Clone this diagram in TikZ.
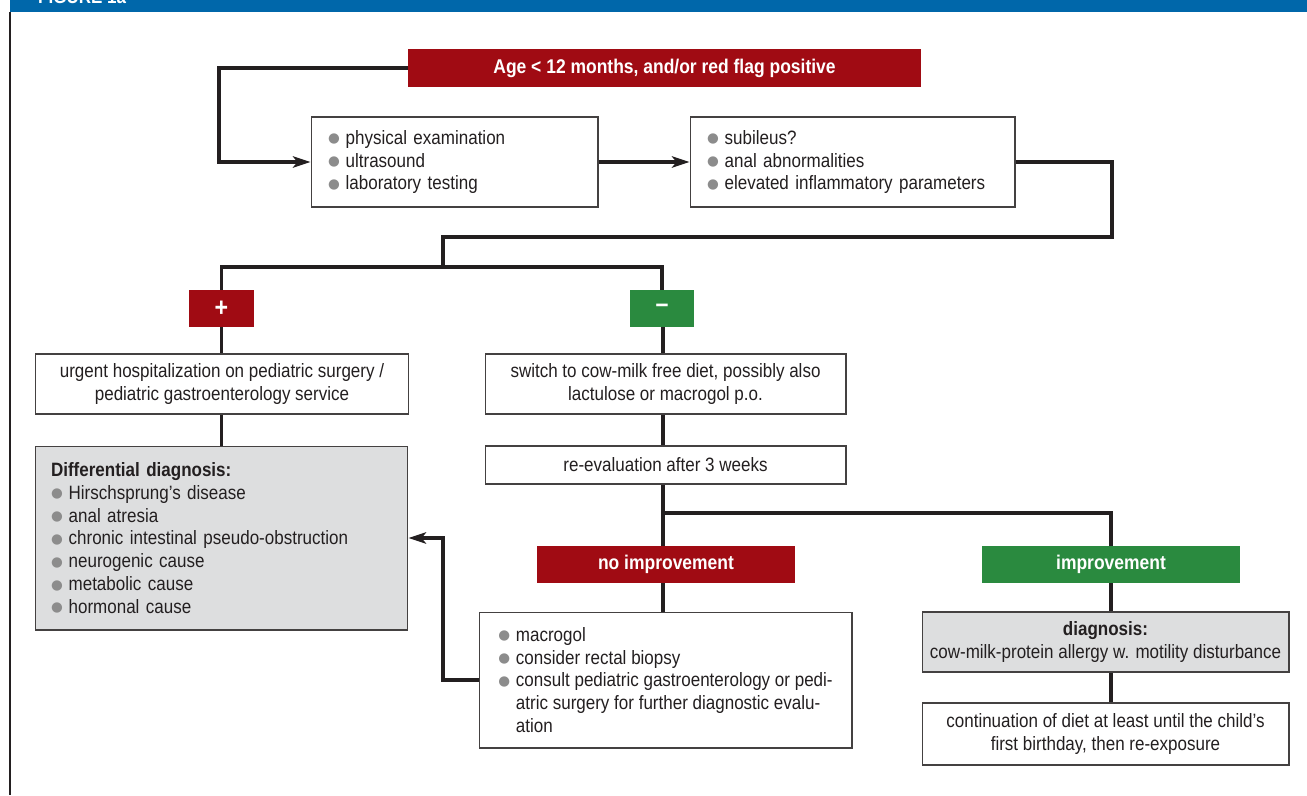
\documentclass[tikz,border=0pt]{standalone}
\usepackage{fontspec}
\setmainfont{Liberation Sans}[FakeStretch=0.88]
\newfontfamily\symfont{DejaVu Sans}
\usetikzlibrary{arrows.meta}

\definecolor{flagred}{HTML}{A00B13}
\definecolor{flaggreen}{HTML}{2A8A3F}
\definecolor{figblue}{HTML}{0067AA}
\definecolor{boxgray}{HTML}{DDDEDF}
\definecolor{bulgray}{HTML}{8C8C8C}
\definecolor{inkdark}{HTML}{231F20}

\newcommand\bul{{\symfont\color{bulgray}\raisebox{0.15ex}{\scalebox{0.7}{●}}}\hspace{0.3em}}

\tikzset{
  box/.style={draw=inkdark!85, line width=0.6pt, fill=white, text=inkdark,
    font=\fontsize{11}{13}\selectfont, inner sep=0pt, align=center},
  listbox/.style={box, align=left, inner xsep=0.34cm},
  graybox/.style={box, fill=boxgray},
  graylistbox/.style={listbox, fill=boxgray, inner xsep=0.32cm},
  redbar/.style={fill=flagred, text=white, inner sep=0pt,
    font=\fontsize{11.3}{13}\selectfont\bfseries},
  greenbar/.style={redbar, fill=flaggreen},
  conn/.style={draw=inkdark, line width=1.8pt},
  arrowtip/.style={-{Stealth[length=10pt, width=6.5pt, inset=2.5pt]}}
}

\begin{document}
\begin{tikzpicture}[x=0.02cm, y=-0.02cm]
  \useasboundingbox (0,0) rectangle (1307,795);
  % header bar and frame
  \fill[figblue] (10,0) rectangle (1307,12);
  \node[anchor=base west, text=white, font=\fontsize{11}{13}\selectfont\bfseries] (figlabel) at (32,3) {FIGURE 1a};
  \draw[inkdark, line width=1.2pt] (10,12) -- (10,795);

  % first row
  \node[redbar, minimum width=10.26cm, minimum height=0.76cm] (age) at (664.5,68) {Age < 12 months, and/or red flag positive};
  \node[listbox, text width=5.06cm, minimum height=1.8cm] (exam) at (454.5,162)
    {\bul physical examination\\ \bul ultrasound\\ \bul laboratory testing};
  \node[listbox, text width=5.82cm, minimum height=1.8cm] (check) at (852.5,162)
    {\bul subileus?\\ \bul anal abnormalities\\ \bul elevated inflammatory parameters};

  % result markers
  \node[redbar, minimum width=1.3cm, minimum height=0.74cm, font=\fontsize{15}{15}\selectfont\bfseries] (plus) at (221.5,308.5) {+};
  \node[greenbar, minimum width=1.28cm, minimum height=0.74cm, font=\fontsize{15}{15}\selectfont\bfseries] (minus) at (662,308.5) {–};

  % positive branch
  \node[box, minimum width=7.48cm, minimum height=1.2cm] (urgent) at (222,384)
    {urgent hospitalization on pediatric surgery /\\ pediatric gastroenterology service};
  \node[graylistbox, text width=6.82cm, minimum height=3.68cm] (diff) at (221.5,538)
    {\textbf{Differential diagnosis:}\\ \bul Hirschsprung’s disease\\ \bul anal atresia\\
     \bul chronic intestinal pseudo-obstruction\\ \bul neurogenic cause\\
     \bul metabolic cause\\ \bul hormonal cause};

  % negative branch
  \node[box, minimum width=7.22cm, minimum height=1.2cm] (diet) at (665.5,384)
    {switch to cow-milk free diet, possibly also\\ lactulose or macrogol p.o.};
  \node[box, minimum width=7.22cm, minimum height=0.76cm] (reeval) at (665.5,465) {re-evaluation after 3 weeks};
  \node[redbar, minimum width=5.16cm, minimum height=0.74cm] (noimp) at (666,564.5) {no improvement};
  \node[greenbar, minimum width=5.16cm, minimum height=0.74cm] (imp) at (1111,564.5) {improvement};
  \node[box, align=left, minimum width=7.46cm, minimum height=2.72cm] (macro) at (665.5,680)
    {\bul macrogol\\ \bul consider rectal biopsy\\
     \bul consult pediatric gastroenterology or pedi-\\
     \phantom{\bul}atric surgery for further diagnostic evalu-\\
     \phantom{\bul}ation};
  \node[graybox, minimum width=7.34cm, minimum height=1.2cm] (diag) at (1105.5,642)
    {\textbf{diagnosis:}\\ cow-milk-protein allergy w. motility disturbance};
  \node[box, minimum width=7.34cm, minimum height=1.24cm] (cont) at (1105.5,734)
    {continuation of diet at least until the child’s\\ first birthday, then re-exposure};

  % connectors
  \coordinate (topleft) at (219,68);
  \coordinate (rightturn) at (1112,237);
  \coordinate (split) at (443,267);
  \coordinate (branch) at (663,513);
  \coordinate (backturn) at (443,538);
  \draw[conn, arrowtip] (age.west) -- (topleft) |- (exam.west);
  \draw[conn, arrowtip] (exam.east) -- (check.west);
  \draw[conn] (check.east) -| (rightturn) -| (split);
  \draw[conn] (plus.north) |- (split) -| (minus.north);
  \draw[conn] (plus.south) -- (plus.south |- urgent.north);
  \draw[conn] (urgent.south -| plus) -- (diff.north -| plus);
  \draw[conn] (minus.south -| branch) -- (diet.north -| branch);
  \draw[conn] (diet.south -| branch) -- (reeval.north -| branch);
  \draw[conn] (reeval.south -| branch) -- (noimp.north -| branch);
  \draw[conn] (branch) -| (imp.north);
  \draw[conn] (noimp.south -| branch) -- (macro.north -| branch);
  \draw[conn] (imp.south) -- (imp.south |- diag.north);
  \draw[conn] (diag.south -| imp) -- (cont.north -| imp);
  \draw[conn, arrowtip] (macro.west) -| (backturn) -- (diff.east |- backturn);
\end{tikzpicture}
\end{document}
